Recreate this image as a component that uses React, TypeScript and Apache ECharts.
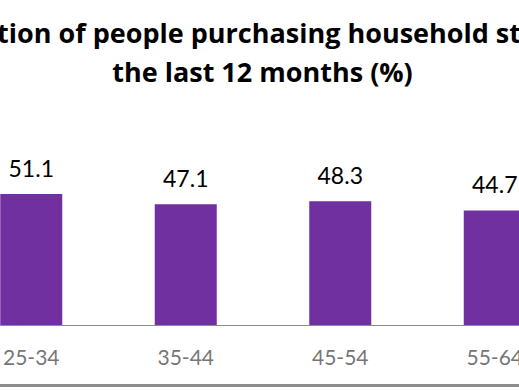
import React, { useEffect, useRef } from "react";
import * as echarts from "echarts";

const categories = ["25-34", "35-44", "45-54", "55-64"];
const values = [51.1, 47.1, 48.3, 44.7];
const titleLine1 = "tion of people purchasing household st";
const titleLine2 = "the last 12 months (%)";

// The reference is a crop of a wider chart: the chart div is shifted left.
const OFFSET = 46;
const CHART_W = 618;

export default function App() {
  const ref = useRef<HTMLDivElement>(null);
  useEffect(() => {
    document.body.style.margin = "0";
    document.body.style.overflow = "hidden";
    if (!ref.current) return;
    const chart = echarts.init(ref.current, null, { renderer: "svg" });
    chart.setOption({
      animation: false,
      backgroundColor: "#ffffff",
      grid: { left: 0, right: 0, top: 171.2, bottom: 65, containLabel: false },
      xAxis: {
        type: "category",
        data: categories,
        axisLine: { show: true, lineStyle: { color: "#8c8c8c", width: 1 } },
        axisTick: { show: false },
        axisLabel: { color: "#767676", fontFamily: "Lato", fontSize: 21, margin: 21 },
      },
      yAxis: { type: "value", min: 0, max: 60, show: false, splitLine: { show: false } },
      series: [
        {
          type: "bar",
          data: values,
          barWidth: 62,
          itemStyle: { color: "#7030A0" },
          label: {
            show: true,
            position: "top",
            distance: 15,
            color: "#000000",
            fontFamily: "Lato",
            fontSize: 23,
            formatter: (p: any) => p.value.toFixed(1),
          },
        },
      ],
      graphic: [
        {
          type: "text",
          x: OFFSET + 259,
          y: 32,
          style: {
            text: titleLine1,
            fontFamily: "Open Sans",
            fontWeight: "bold",
            fontSize: 27,
            fill: "#000000",
            textAlign: "center",
            textVerticalAlign: "middle",
          },
        },
        {
          type: "text",
          x: OFFSET + 262.5,
          y: 71,
          style: {
            text: titleLine2,
            fontFamily: "Open Sans",
            fontWeight: "bold",
            fontSize: 27,
            fill: "#000000",
            textAlign: "center",
            textVerticalAlign: "middle",
          },
        },
        {
          type: "rect",
          shape: { x: OFFSET, y: 384, width: 519, height: 3 },
          style: { fill: "#8c8c8c" },
        },
      ],
    });
    return () => chart.dispose();
  }, []);
  return (
    <div
      ref={ref}
      style={{ position: "fixed", left: -OFFSET, top: 0, width: CHART_W, height: 390, background: "#fff" }}
    />
  );
}
